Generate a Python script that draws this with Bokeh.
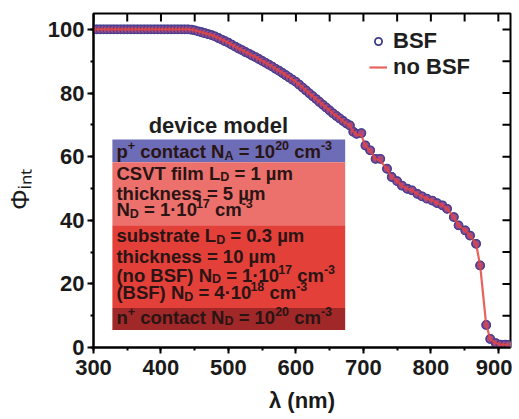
from bokeh.plotting import figure
from bokeh.models import (Range1d, SingleIntervalTicker, ColumnDataSource,
                          Legend, LegendItem)
from bokeh.core.properties import value
from bokeh.embed import file_html
from bokeh.resources import INLINE

# ---------------- data ----------------
wavelength = [300, 305, 310, 315, 320, 325, 330, 335, 340, 345, 350, 355, 360, 365, 370,
              375, 380, 385, 390, 395, 400, 405, 410, 415, 420, 425, 430, 435, 440, 445,
              450, 455, 460, 465, 470, 475, 480, 485, 490, 495, 500, 505, 510, 515, 520,
              525, 530, 535, 540, 545, 550, 555, 560, 565, 570, 575, 580, 585, 590, 595,
              600, 605, 610, 615, 620, 625, 630, 635, 640, 645, 650, 655, 660, 665, 670,
              675, 680, 685, 690, 697, 703, 710, 718, 725, 735, 742, 750, 757, 765, 772,
              780, 787, 794, 802, 809, 817, 824, 834, 841, 851, 858, 867, 873, 882, 888,
              896, 903, 910, 915]
phi_bsf = [100.0, 100.0, 100.0, 100.0, 100.0, 100.0, 100.0, 100.0, 100.0, 100.0, 100.0,
           100.0, 100.0, 100.0, 100.0, 100.0, 100.0, 100.0, 100.0, 100.0, 100.0, 100.0,
           100.0, 100.0, 100.0, 100.0, 100.0, 100.0, 100.0, 99.9, 99.7, 99.4, 99.1, 98.8,
           98.5, 98.2, 97.8, 97.3, 96.8, 96.3, 95.8, 95.2, 94.6, 94.0, 93.5, 92.9, 92.4,
           91.8, 91.3, 90.7, 90.1, 89.5, 88.9, 88.3, 87.6, 87.0, 86.3, 85.6, 84.9, 84.2,
           83.5, 82.6, 81.7, 80.8, 79.9, 79.0, 78.1, 77.2, 76.3, 75.4, 74.5, 73.6, 72.8,
           72.0, 71.2, 70.4, 69.8, 67.8, 67.2, 67.4, 63.5, 62.0, 59.3, 59.3, 56.2, 53.6,
           52.3, 50.9, 49.9, 49.4, 48.3, 47.5, 46.8, 46.2, 45.4, 44.7, 43.6, 41.0, 38.4,
           36.8, 35.2, 32.6, 25.8, 7.1, 2.7, 1.4, 0.9, 0.9, 0.8]
phi_no_bsf = [100.0, 100.0, 100.0, 100.0, 100.0, 100.0, 100.0, 100.0, 100.0, 100.0, 100.0,
              100.0, 100.0, 100.0, 100.0, 100.0, 100.0, 100.0, 100.0, 100.0, 100.0, 100.0,
              100.0, 100.0, 100.0, 100.0, 100.0, 100.0, 100.0, 99.9, 99.7, 99.4, 99.1, 98.8,
              98.5, 98.2, 97.8, 97.3, 96.8, 96.3, 95.8, 95.2, 94.6, 94.0, 93.5, 92.9, 92.4,
              91.8, 91.3, 90.7, 90.1, 89.5, 88.9, 88.3, 87.6, 87.0, 86.3, 85.6, 84.9, 84.2,
              83.5, 82.6, 81.7, 80.8, 79.9, 79.0, 78.1, 77.2, 76.3, 75.4, 74.5, 73.6, 72.8,
              72.0, 71.2, 70.4, 69.8, 67.8, 67.0, 66.6, 63.5, 61.8, 59.3, 58.6, 56.2, 53.6,
              52.3, 50.9, 49.9, 49.4, 48.3, 47.5, 46.8, 46.2, 45.4, 44.7, 43.6, 41.0, 38.4,
              36.8, 35.2, 32.6, 25.8, 7.1, 2.7, 1.4, 0.9, 0.9, 0.8]
series_labels = ["BSF", "no BSF"]
x_ticks = [300, 400, 500, 600, 700, 800, 900]
y_ticks = [0, 20, 40, 60, 80, 100]
# mirrored (inward) ticks on the top and right frame edges
top_ticks = [300, 350, 400, 450, 500, 550, 600, 650, 700, 750, 800, 850, 900]
right_ticks = [10, 20, 30, 40, 50, 60, 70, 80, 90, 100]

box_title = "device model"
# layers of the device model: (bottom, top, colour)
layer_bottom = [58.2, 38.4, 12.4, 5.5]
layer_top = [65.4, 58.2, 38.4, 12.4]
layer_color = ["#6c6db6", "#ec716c", "#e3403a", "#a02828"]
# text lines: segments of (text, kind) with kind n / sub / sup
box_lines = [
    [("p", "n"), ("+", "sup"), (" contact N", "n"), ("A", "sub"), (" = 10", "n"), ("20", "sup"), (" cm", "n"), ("-3", "sup")],
    [("CSVT film L", "n"), ("D", "sub"), (" = 1 µm", "n")],
    [("thickness = 5 µm", "n")],
    [("N", "n"), ("D", "sub"), (" = 1·10", "n"), ("17", "sup"), (" cm", "n"), ("-3", "sup")],
    [("substrate L", "n"), ("D", "sub"), (" = 0.3 µm", "n")],
    [("thickness = 10 µm", "n")],
    [("(no BSF) N", "n"), ("D", "sub"), (" = 1·10", "n"), ("17", "sup"), (" cm", "n"), ("-3", "sup")],
    [("(BSF) N", "n"), ("D", "sub"), (" = 4·10", "n"), ("18", "sup"), (" cm", "n"), ("-3", "sup")],
    [("n", "n"), ("+", "sup"), (" contact N", "n"), ("D", "sub"), (" = 10", "n"), ("20", "sup"), (" cm", "n"), ("-3", "sup")],
]
line_y = [61.4, 54.7, 48.4, 43.1, 34.9, 28.6, 22.6, 17.0, 9.4]

# ---------------- figure ----------------
FONT = "Liberation Sans"
X0, X1, Y0, Y1 = 300, 918, 0, 105
FW, FH = 417, 334
p = figure(frame_width=FW, frame_height=FH, output_backend="svg", toolbar_location=None,
           x_range=Range1d(X0, X1), y_range=Range1d(Y0, Y1),
           min_border_left=93, min_border_right=2, min_border_top=13, min_border_bottom=60)
p.background_fill_color = "white"
p.border_fill_color = "white"
p.outline_line_color = "black"
p.outline_line_width = 2
p.xgrid.visible = False
p.ygrid.visible = False

# layers
lay = ColumnDataSource(dict(left=[328] * 4, right=[673] * 4, bottom=layer_bottom,
                            top=layer_top, color=layer_color))
p.quad(left="left", right="right", bottom="bottom", top="top", fill_color="color",
       line_color=None, source=lay)

# text with sub/superscripts (Arial/Liberation Sans Bold advance widths)
W = {' ': 278, '+': 584, '-': 333, '=': 584, '(': 333, ')': 333, '.': 278, '·': 278,
     'µ': 611, 'A': 722, 'B': 722, 'C': 722, 'D': 722, 'F': 611, 'L': 611, 'N': 722,
     'S': 667, 'T': 611, 'V': 667, 'a': 556, 'b': 611, 'c': 556, 'd': 611, 'e': 556,
     'f': 333, 'h': 611, 'i': 278, 'k': 556, 'l': 278, 'm': 889, 'n': 611, 'o': 611,
     'p': 611, 'r': 389, 's': 556, 't': 333, 'u': 611, 'v': 556}
BASE = 18.5
SMALL = 12.5


def adv(s, size):
    return sum(W.get(ch, 556) for ch in s) / 1000 * size


rows = dict(x=[], y=[], text=[], xo=[], yo=[], size=[])
for segs, yy in zip(box_lines, line_y):
    off = 0.0
    for txt, kind in segs:
        size = BASE if kind == "n" else SMALL
        dy = -0.5 if kind == "n" else (3.5 if kind == "sub" else -6.5)
        lead = len(txt) - len(txt.lstrip(" "))
        rows["x"].append(334)
        rows["y"].append(yy)
        rows["text"].append(txt.strip(" "))
        rows["xo"].append(off + adv(txt[:lead], size))
        rows["yo"].append(dy)
        rows["size"].append(f"{size}px")
        off += adv(txt, size)
p.text(x="x", y="y", text="text", x_offset="xo", y_offset="yo", text_font_size="size",
       text_font=value(FONT), text_font_style="bold", text_color="#2a1414",
       text_baseline="alphabetic", source=ColumnDataSource(rows))

p.text(x=[485], y=[69.8], text=[box_title], text_font=value(FONT), text_font_style="bold",
       text_font_size="22px", text_color="#1e1e1e", text_align="center",
       text_baseline="middle")

# inward ticks on top and right edges: short segments starting just inside the frame
px_x = (X1 - X0) / FW
px_y = (Y1 - Y0) / FH
top_src = ColumnDataSource(dict(x=top_ticks, y0=[Y1 - 0.5 * px_y] * len(top_ticks),
                                y1=[Y1 - 8 * px_y] * len(top_ticks)))
right_src = ColumnDataSource(dict(y=right_ticks, x0=[X1 - 0.5 * px_x] * len(right_ticks),
                                  x1=[X1 - 8 * px_x] * len(right_ticks)))
p.segment(x0="x", x1="x", y0="y0", y1="y1", source=top_src,
          line_color="black", line_width=2)
p.segment(x0="x0", x1="x1", y0="y", y1="y", source=right_src,
          line_color="black", line_width=2)

# curves
src = ColumnDataSource(dict(x=wavelength, bsf=phi_bsf, nobsf=phi_no_bsf))
leg_c = p.scatter(x="x", y="bsf", source=src, size=8, marker="circle", fill_color="white",
                  line_color="#3a3a8c", line_width=1.8)
p.scatter(x="x", y="bsf", source=src, size=8, marker="circle", fill_color="#a84a7e",
          fill_alpha=1.0, line_color="#4a3f92", line_width=1.3)
ln = p.line(x="x", y="nobsf", source=src, line_color="#e5453e", line_width=2.2, line_alpha=0.85)

legend = Legend(items=[LegendItem(label=series_labels[0], renderers=[leg_c]),
                       LegendItem(label=series_labels[1], renderers=[ln])],
                location=(276, 267), border_line_color=None, background_fill_alpha=0,
                label_text_font=FONT, label_text_font_style="bold",
                label_text_font_size="22px", label_text_color="#1e1e1e",
                glyph_width=18, label_standoff=6, spacing=0, padding=2, margin=0,
                label_height=24, glyph_height=20)
p.add_layout(legend)

# axes
def style_axis(ax):
    ax.axis_line_width = 2
    ax.axis_line_color = "black"
    ax.major_tick_line_width = 2
    ax.minor_tick_line_width = 2
    ax.major_tick_line_color = "black"
    ax.minor_tick_line_color = "black"
    ax.major_label_text_font = FONT
    ax.major_label_text_font_style = "bold"
    ax.major_label_text_font_size = "22px"
    ax.major_label_text_color = "#1a1a1a"

xa = p.xaxis[0]
xa.ticker = SingleIntervalTicker(interval=100, num_minor_ticks=2)
xa.major_label_overrides = {t: str(t) for t in x_ticks}
style_axis(xa)
xa.major_tick_out = 6
xa.major_tick_in = 0
xa.minor_tick_out = 3
xa.minor_tick_in = 0
xa.major_label_standoff = 6
xa.axis_label = "λ (nm)"
xa.axis_label_text_font = FONT
xa.axis_label_text_font_style = "bold"
xa.axis_label_text_font_size = "22px"
xa.axis_label_text_color = "#1a1a1a"
xa.axis_label_standoff = 10

ya = p.yaxis[0]
ya.ticker = SingleIntervalTicker(interval=20, num_minor_ticks=2)
ya.major_label_overrides = {t: str(t) for t in y_ticks}
style_axis(ya)
ya.major_tick_out = 6
ya.major_tick_in = 0
ya.minor_tick_out = 3
ya.minor_tick_in = 0
ya.major_label_standoff = 3
ya.axis_label = "Φᵢₙₜ\u2002\u2009"
ya.axis_label_text_font = FONT
ya.axis_label_text_font_style = "normal"
ya.axis_label_text_font_size = "26px"
ya.axis_label_text_color = "#1a1a1a"
ya.axis_label_standoff = 10

open("out.html", "w").write(file_html(p, INLINE))
